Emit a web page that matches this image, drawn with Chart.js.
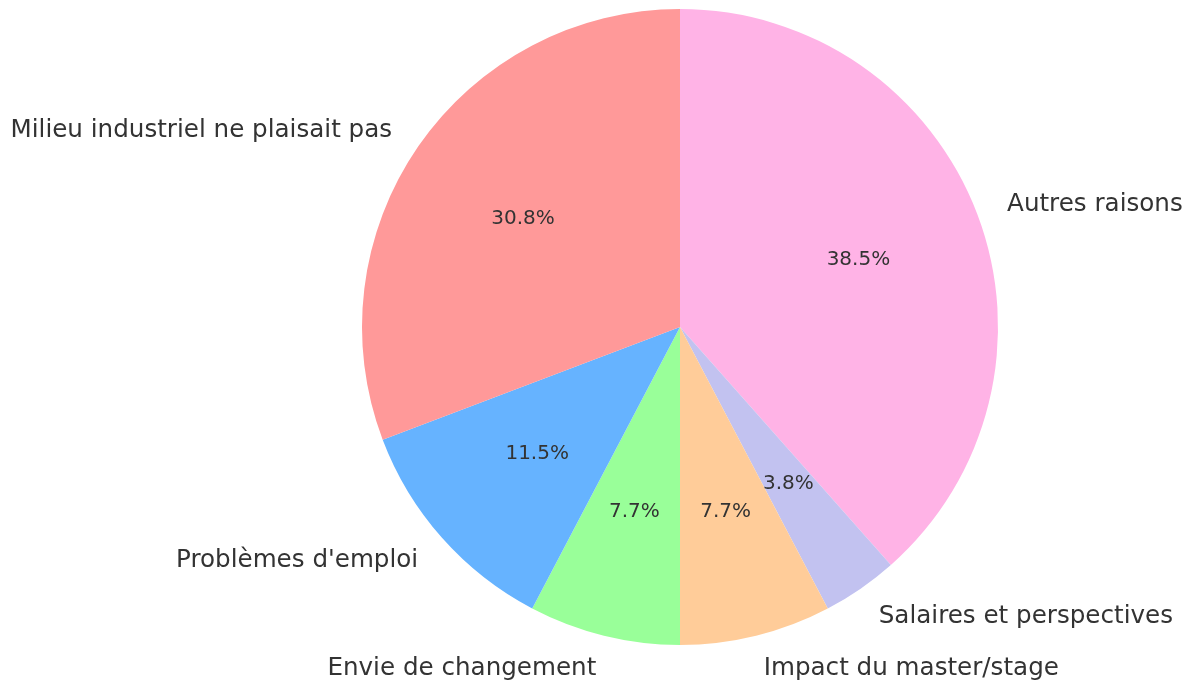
<!DOCTYPE html>
<html lang="fr">
<head>
    <meta charset="UTF-8">
    <title>Raisons</title>
    <script src="https://cdn.jsdelivr.net/npm/chart.js"></script>
    <style>
        html, body { margin: 0; padding: 0; background: #fff; }
    </style>
</head>
<body>
    <canvas id="pieChart" width="1195" height="687"></canvas>

    <script>
        // Data (clockwise from top, as Chart.js draws it)
        const labels = ['Autres raisons', 'Salaires et perspectives', 'Impact du master/stage',
                        'Envie de changement', "Problèmes d'emploi", 'Milieu industriel ne plaisait pas'];
        const counts = [10, 1, 2, 2, 3, 8];
        const colors = ['#ffb3e6', '#c2c2f0', '#ffcc99', '#99ff99', '#66b3ff', '#ff9999'];

        const total = counts.reduce((a, b) => a + b, 0);

        // Draw outside labels and percentages like matplotlib's pie
        const pieLabels = {
            id: 'pieLabels',
            afterDatasetsDraw(chart) {
                const ctx = chart.ctx;
                const arcs = chart.getDatasetMeta(0).data;
                ctx.save();
                ctx.fillStyle = '#333333';
                ctx.textBaseline = 'middle';
                arcs.forEach((arc, i) => {
                    const mid = (arc.startAngle + arc.endAngle) / 2;
                    const r = arc.outerRadius;
                    const cx = Math.cos(mid), cy = Math.sin(mid);

                    ctx.font = '24.6px "DejaVu Sans"';
                    ctx.textAlign = cx > 0 ? 'left' : 'right';
                    ctx.fillText(labels[i], arc.x + cx * r * 1.1, arc.y + cy * r * 1.1 + 2);

                    ctx.font = '20px "DejaVu Sans"';
                    ctx.textAlign = 'center';
                    const pct = (counts[i] / total * 100).toFixed(1) + '%';
                    ctx.fillText(pct, arc.x + cx * r * 0.6, arc.y + cy * r * 0.6);
                });
                ctx.restore();
            }
        };

        new Chart(document.getElementById('pieChart').getContext('2d'), {
            type: 'pie',
            data: {
                labels: labels,
                datasets: [{
                    data: counts,
                    backgroundColor: colors,
                    borderWidth: 0
                }]
            },
            options: {
                responsive: false,
                animation: false,
                layout: {
                    padding: { left: 362, right: 197, top: 9, bottom: 42 }
                },
                plugins: {
                    legend: { display: false },
                    tooltip: { enabled: false }
                }
            },
            plugins: [pieLabels]
        });
    </script>
</body>
</html>
